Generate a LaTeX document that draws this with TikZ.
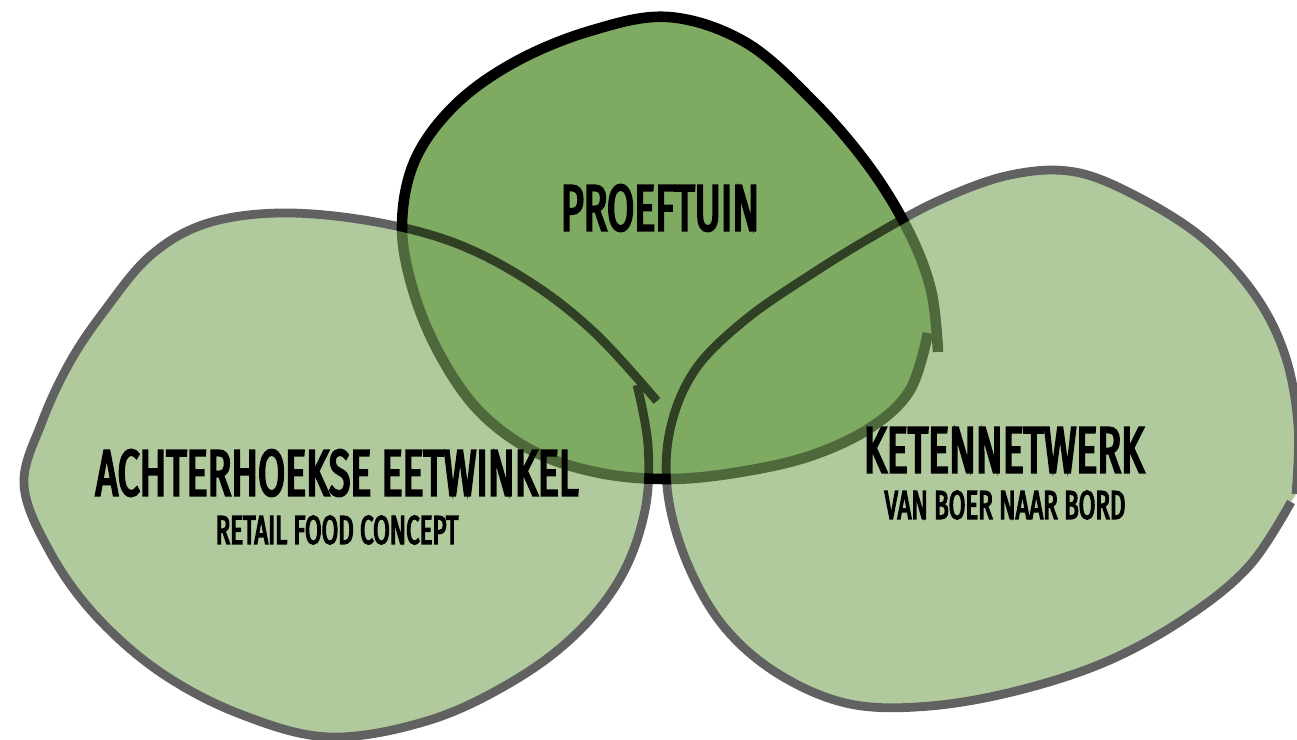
\documentclass[tikz,border=0pt]{standalone}
\usepackage{fontspec}
\newfontfamily\handfont[FakeStretch=0.6, FakeBold=3.5]{Fira Sans}
\usetikzlibrary{positioning}

\definecolor{leafgreen}{RGB}{127,170,98}

\tikzset{
  topblob/.style={fill=leafgreen, draw=black, line width=3pt, line join=round},
  sideblob/.style={fill=leafgreen, draw=black, line width=2.5pt, line join=round},
  bigtitle/.style={font=\handfont\fontsize{18.6}{20}\selectfont, inner sep=0pt},
  subtitle/.style={font=\handfont\fontsize{11.4}{13}\selectfont, inner sep=0pt},
}

\begin{document}
\begin{tikzpicture}[x=0.01cm, y=-0.01cm, align=center]
\useasboundingbox (0,0) rectangle (1297,740);

% top blob first, the two others lie over it
\path[topblob] plot[smooth, tension=0.6] coordinates {
  (928,333) (910,390) (870,428) (810,456) (740,472) (670,479) (600,473)
  (535,452) (480,412) (440,355) (413,290) (402,225) (415,160) (455,105)
  (515,62) (590,31) (668,17) (745,42) (812,100) (868,165) (908,230)
  (931,290) (938,352)};

% -------------------------------

\begin{scope}[transparency group, opacity=0.62]
\path[sideblob] plot[smooth, tension=0.6] coordinates {
  (637,385) (648,445) (645,510) (622,575) (578,632) (515,680) (430,720)
  (330,737) (240,714) (160,672) (95,615) (50,552) (24,485) (42,422)
  (70,362) (105,310) (150,256) (205,224) (280,213) (370,221) (455,243)
  (530,282) (595,333) (657,401)};

\path[sideblob] plot[smooth, tension=0.6] coordinates {
  (1291,502) (1250,565) (1190,615) (1110,660) (1020,690) (930,706)
  (850,704) (780,675) (725,628) (688,565) (668,495) (670,430) (695,370)
  (745,320) (810,275) (875,235) (940,200) (1010,175) (1075,172)
  (1140,198) (1205,240) (1255,295) (1285,355) (1298,425) (1296,494)};
\end{scope}

% -------------------------------

\node (proeftuin) [bigtitle] at (660,208) {PROEFTUIN};

\node (eetwinkel) [bigtitle] at (337,473) {ACHTERHOEKSE EETWINKEL};
\node (retail) [subtitle] at (337,530) {RETAIL FOOD CONCEPT};

\node (keten) [bigtitle] at (1004,450) {KETENNETWERK};
\node (boerbord) [subtitle] at (1005,505) {VAN BOER NAAR BORD};
\end{tikzpicture}
\end{document}
